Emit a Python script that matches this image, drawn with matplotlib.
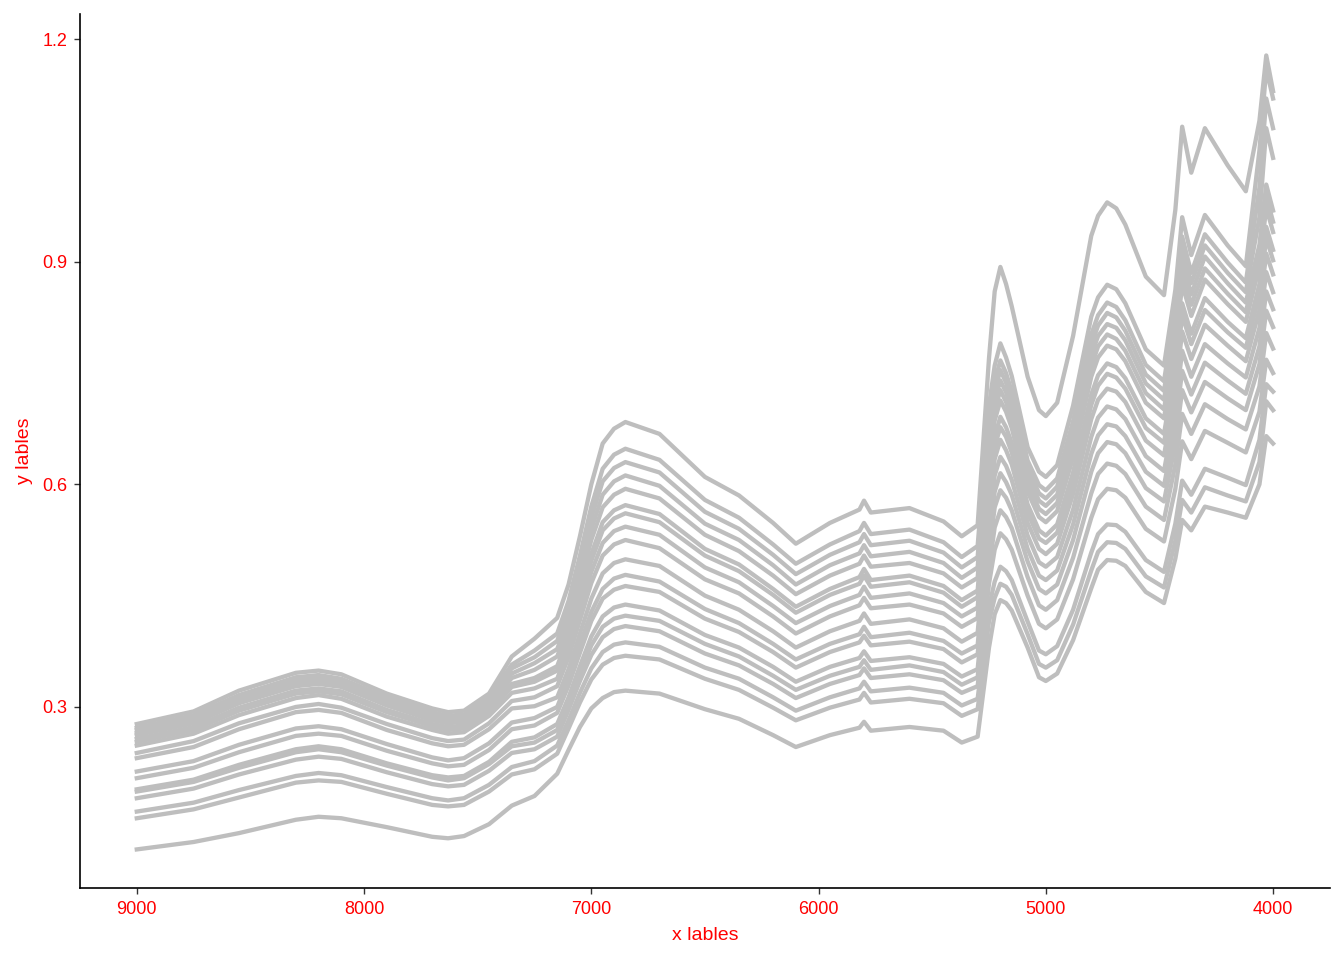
import matplotlib
matplotlib.use("Agg")
import matplotlib.pyplot as plt

plt.rcParams['font.family'] = ['Liberation Sans', 'DejaVu Sans']

wavenumber = [9000, 8750, 8550, 8300, 8100, 7900, 7700, 7560, 7450, 7350, 7250, 7150,
              7050, 6950, 6850, 6700, 6500, 6350, 6200, 6100, 5950, 5820, 5800, 5770,
              5600, 5450, 5370, 5300, 5250, 5200, 5150, 5080, 5000, 4950, 4880, 4800,
              4730, 4650, 4560, 4480, 4430, 4400, 4360, 4300, 4200, 4120, 4060, 4030, 4000]

s00 = [.108, .118, .130, .148, .150, .138, .125, .126, .142, .167, .180, .210, .273, .312, .322, .318, .297, .284, .262, .246, .262, .272, .280, .268, .273, .268, .252, .260, .380, .444, .430, .380, .335, .345, .390, .460, .498, .490, .455, .440, .500, .552, .538, .570, .562, .555, .600, .665, .655]
s01 = [.150, .162, .178, .198, .199, .183, .168, .168, .186, .209, .216, .237, .306, .357, .369, .364, .338, .323, .299, .282, .299, .310, .319, .306, .311, .305, .288, .297, .415, .466, .451, .398, .353, .363, .411, .484, .522, .513, .476, .461, .524, .579, .562, .596, .585, .577, .630, .712, .700]
s02 = [.159, .171, .188, .207, .208, .192, .177, .177, .195, .219, .227, .248, .319, .374, .387, .381, .353, .338, .313, .295, .313, .325, .334, .321, .326, .319, .302, .311, .435, .489, .471, .415, .371, .382, .431, .508, .546, .536, .498, .482, .547, .605, .586, .621, .609, .599, .660, .735, .725]
s03 = [.177, .190, .209, .229, .230, .212, .196, .195, .214, .238, .243, .260, .335, .394, .409, .402, .372, .356, .331, .312, .331, .343, .352, .339, .344, .336, .319, .328, .466, .534, .512, .450, .406, .418, .472, .555, .594, .582, .540, .523, .594, .658, .634, .672, .656, .643, .698, .768, .750]
s04 = [.186, .199, .218, .239, .239, .221, .205, .204, .223, .247, .252, .269, .345, .408, .423, .416, .385, .368, .342, .323, .342, .354, .363, .350, .356, .347, .330, .340, .487, .565, .541, .475, .431, .444, .501, .588, .628, .614, .570, .552, .627, .695, .668, .708, .688, .674, .732, .804, .783]
s05 = [.189, .202, .222, .243, .243, .224, .208, .207, .226, .253, .259, .277, .355, .422, .438, .430, .397, .380, .354, .334, .354, .366, .375, .362, .367, .358, .341, .351, .507, .592, .565, .496, .453, .465, .525, .617, .657, .642, .595, .577, .655, .727, .697, .738, .716, .700, .762, .834, .812]
s06 = [.204, .218, .239, .261, .261, .241, .224, .222, .242, .270, .275, .292, .373, .446, .463, .455, .419, .401, .374, .353, .374, .387, .396, .383, .388, .378, .360, .371, .530, .615, .586, .513, .471, .484, .546, .641, .681, .665, .617, .598, .679, .753, .721, .764, .740, .722, .786, .860, .836]
s07 = [.213, .227, .249, .271, .270, .250, .232, .231, .251, .279, .285, .300, .384, .459, .478, .469, .432, .413, .385, .364, .385, .398, .408, .394, .400, .389, .372, .383, .548, .637, .606, .531, .489, .502, .566, .664, .705, .688, .638, .618, .702, .780, .745, .789, .763, .744, .811, .886, .859]
s08 = [.231, .246, .270, .293, .292, .269, .251, .249, .270, .298, .301, .313, .399, .480, .499, .490, .450, .431, .402, .380, .402, .416, .426, .412, .418, .406, .388, .400, .569, .660, .627, .548, .506, .520, .587, .688, .729, .711, .659, .639, .726, .806, .769, .815, .787, .766, .835, .911, .883]
s09 = [.238, .254, .278, .300, .299, .277, .258, .256, .278, .308, .313, .328, .417, .504, .525, .514, .472, .453, .422, .399, .422, .437, .447, .433, .438, .426, .408, .420, .591, .677, .643, .562, .521, .535, .603, .707, .749, .729, .676, .656, .744, .828, .789, .835, .805, .784, .855, .932, .902]
s10 = [.248, .264, .289, .312, .311, .287, .269, .266, .288, .319, .325, .338, .430, .521, .543, .532, .488, .468, .436, .413, .436, .451, .462, .447, .453, .440, .422, .434, .606, .691, .656, .573, .531, .546, .616, .721, .763, .743, .689, .668, .759, .844, .803, .851, .819, .797, .870, .947, .916]
s11 = [.253, .269, .295, .318, .317, .293, .274, .271, .293, .327, .334, .349, .443, .538, .561, .549, .504, .483, .451, .427, .451, .466, .477, .462, .468, .454, .435, .448, .626, .713, .676, .590, .549, .564, .636, .745, .787, .766, .710, .689, .782, .870, .827, .876, .843, .819, .894, .973, .940]
s12 = [.257, .273, .299, .322, .321, .296, .277, .275, .297, .331, .339, .355, .450, .549, .572, .560, .513, .492, .459, .435, .459, .475, .486, .471, .477, .463, .444, .457, .637, .727, .688, .601, .560, .575, .648, .759, .802, .780, .723, .701, .796, .886, .842, .891, .857, .832, .909, .988, .954]
s13 = [.262, .278, .305, .328, .327, .302, .282, .280, .302, .339, .350, .368, .466, .569, .594, .581, .532, .510, .477, .452, .477, .493, .504, .489, .494, .480, .461, .474, .655, .740, .701, .611, .571, .586, .661, .774, .816, .794, .736, .714, .810, .902, .856, .907, .871, .845, .923, 1.004, .969]
s14 = [.265, .282, .309, .332, .330, .305, .286, .283, .306, .345, .359, .378, .479, .586, .612, .598, .547, .525, .491, .465, .491, .507, .518, .503, .509, .494, .474, .488, .671, .754, .713, .622, .581, .597, .673, .788, .831, .807, .748, .726, .824, .918, .871, .922, .885, .859, .960, 1.080, 1.040]
s15 = [.269, .285, .312, .336, .334, .309, .289, .287, .309, .352, .367, .389, .491, .604, .630, .616, .563, .540, .505, .479, .505, .522, .533, .518, .524, .508, .488, .502, .686, .767, .725, .632, .592, .608, .685, .802, .845, .821, .761, .739, .838, .934, .885, .937, .899, .872, 1.000, 1.120, 1.080]
s16 = [.272, .289, .316, .340, .338, .313, .293, .290, .313, .357, .376, .399, .504, .621, .648, .633, .579, .555, .519, .493, .519, .537, .548, .533, .539, .522, .502, .517, .706, .790, .746, .650, .610, .626, .706, .826, .869, .844, .782, .760, .862, .960, .909, .963, .922, .894, 1.050, 1.160, 1.120]
s17 = [.277, .294, .322, .346, .344, .318, .298, .295, .318, .368, .392, .420, .530, .655, .684, .668, .610, .585, .548, .520, .548, .566, .578, .562, .568, .550, .530, .545, .770, .893, .840, .745, .692, .710, .800, .935, .980, .950, .880, .855, .970, 1.082, 1.020, 1.080, 1.030, .995, 1.090, 1.178, 1.130]

# extra readings on the rounded peaks and valleys
extra_wn = [8200, 7630, 7100, 7000, 6900, 5225, 5175, 5030, 4770, 4690]

e00 = [.152, .123, .242, .298, .320, .425, .440, .340, .485, .497]
e01 = [.201, .166, .271, .337, .366, .447, .462, .358, .509, .521]
e02 = [.211, .174, .282, .352, .384, .469, .483, .376, .533, .545]
e03 = [.233, .193, .296, .370, .405, .512, .526, .412, .580, .592]
e04 = [.243, .201, .304, .383, .419, .542, .556, .437, .614, .625]
e05 = [.247, .205, .313, .395, .434, .569, .582, .459, .642, .654]
e06 = [.264, .220, .329, .416, .458, .590, .603, .477, .666, .678]
e07 = [.274, .228, .338, .428, .473, .612, .625, .495, .690, .701]
e08 = [.296, .247, .351, .446, .494, .634, .646, .513, .714, .725]
e09 = [.304, .254, .367, .467, .519, .651, .664, .527, .733, .744]
e10 = [.316, .264, .378, .482, .537, .664, .677, .538, .747, .758]
e11 = [.321, .269, .389, .497, .554, .686, .698, .556, .771, .782]
e12 = [.325, .273, .396, .506, .565, .699, .711, .567, .786, .796]
e13 = [.331, .278, .409, .525, .586, .712, .724, .578, .800, .811]
e14 = [.335, .281, .420, .540, .604, .725, .737, .588, .814, .825]
e15 = [.339, .285, .432, .555, .622, .738, .750, .599, .828, .839]
e16 = [.343, .288, .443, .570, .640, .760, .771, .617, .852, .863]
e17 = [.349, .293, .465, .600, .675, .860, .870, .700, .962, .972]

spectra = [(s00, e00), (s01, e01), (s02, e02), (s03, e03), (s04, e04), (s05, e05),
           (s06, e06), (s07, e07), (s08, e08), (s09, e09), (s10, e10), (s11, e11),
           (s12, e12), (s13, e13), (s14, e14), (s15, e15), (s16, e16), (s17, e17)]

fig = plt.figure(figsize=(13.44, 9.6), dpi=100)
ax = fig.add_axes([0.0595, 0.075, 0.930, 0.9105])

for main, extra in spectra:
    # merge the two sets of readings and put them in wavenumber order
    pts = sorted(zip(wavenumber + extra_wn, main + extra), reverse=True)
    xs = [p[0] for p in pts]
    ys = [p[1] for p in pts]
    ax.plot(xs, ys, color='#BEBEBE', lw=3.1, solid_joinstyle='round')

ax.set_xlim(9250, 3750)  # wavenumber axis reversed
ax.set_ylim(0.056, 1.234)
ax.set_xticks([9000, 8000, 7000, 6000, 5000, 4000])
ax.set_yticks([0.3, 0.6, 0.9, 1.2])
ax.set_yticklabels(['0.3', '0.6', '0.9', '1.2'])

for side in ['top', 'right']:
    ax.spines[side].set_visible(False)
for side in ['left', 'bottom']:
    ax.spines[side].set_linewidth(1.2)
    ax.spines[side].set_color('black')

ax.tick_params(axis='both', length=4, width=1, color='#333333',
               labelcolor='red', labelsize=13, pad=5)

ax.set_xlabel('x lables', color='red', fontsize=14, labelpad=7)
ax.set_ylabel('y lables', color='red', fontsize=14, labelpad=7)

fig.savefig('out.png', dpi=100, facecolor='white')
